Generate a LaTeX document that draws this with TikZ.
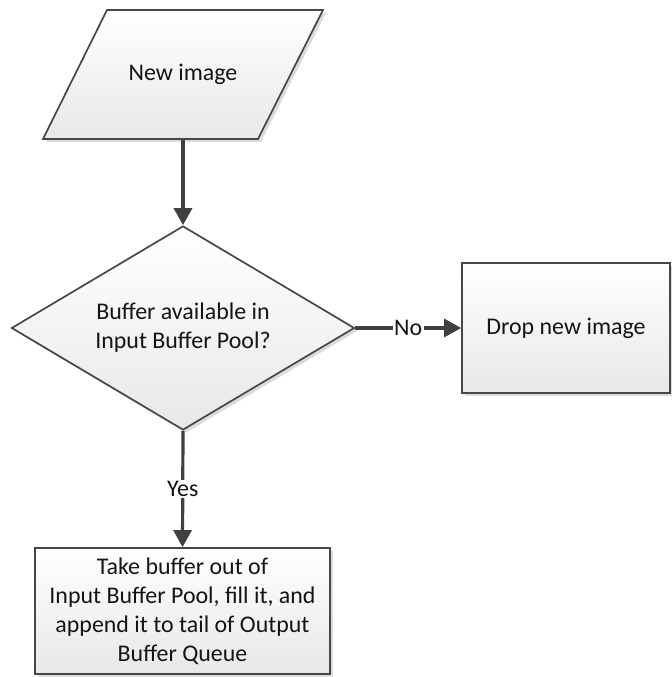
\documentclass[tikz,border=0pt]{standalone}
\usepackage{fontspec}
\setmainfont{Carlito}
\usetikzlibrary{arrows.meta,shapes.geometric,shadows}
\begin{document}
\begin{tikzpicture}[x=1bp,y=1bp,
  txt/.style={text=black!92, font=\fontsize{24}{29}\selectfont, align=center},
  box/.style={draw=black!72, line width=1.7bp, top color=white, bottom color=black!9,
    drop shadow={shadow xshift=3bp, shadow yshift=-3bp, fill=black!30, opacity=0.45},
    txt, inner sep=0pt},
  conn/.style={draw=black!75, line width=3.2bp, -{Triangle[length=17bp,width=18bp]}},
  lbl/.style={fill=white, txt, inner sep=1.5bp}]
\useasboundingbox (0,0) rectangle (672,677);
% input (parallelogram)
\draw[box] (107,667) -- (323,667) -- (258,538) -- (43,538) -- cycle;
\node[txt, inner sep=0pt, minimum width=150bp, minimum height=129bp] (newimg) at (183,602.5) {New image};
% decision
\node[box, diamond, aspect=1.68, minimum width=343bp, minimum height=204bp] (dec) at (183,349)
  {Buffer available in\\Input Buffer Pool?};
% drop
\node[box, rectangle, minimum width=208bp, minimum height=130bp] (drop) at (566,349) {Drop new image};
% take
\node[box, rectangle, minimum width=295bp, minimum height=126bp] (take) at (182.5,66)
  {Take buffer out of\\Input Buffer Pool, fill it, and\\append it to tail of Output\\Buffer Queue};
% connectors
\draw[conn] (newimg.south) -- (dec.north);
\draw[conn] (dec.east) -- node[lbl] {No} (drop.west);
\draw[conn] (dec.south) -- node[lbl] {Yes} (take.north);
\end{tikzpicture}
\end{document}
